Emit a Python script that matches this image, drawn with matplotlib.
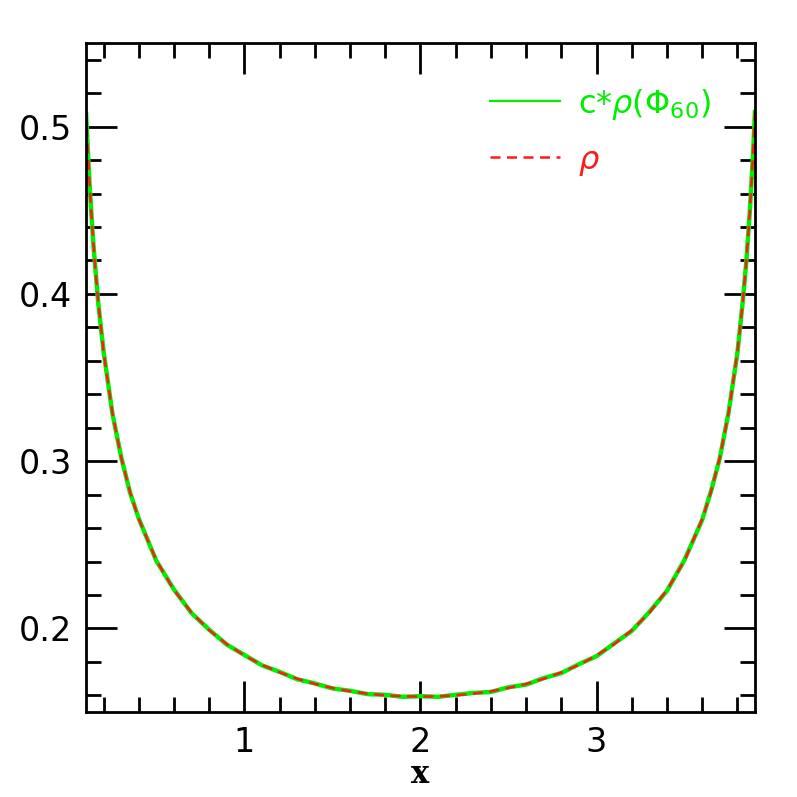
import matplotlib
matplotlib.use("Agg")
import matplotlib.pyplot as plt
from matplotlib.ticker import MultipleLocator
from matplotlib.lines import Line2D

# values
x_vals = [0.10, 0.11, 0.12, 0.13, 0.14, 0.15, 0.17, 0.20, 0.25, 0.30, 0.35, 0.40,
          0.50, 0.60, 0.70, 0.80, 0.90, 1.00, 1.10, 1.20, 1.30, 1.40, 1.50, 1.60,
          1.70, 1.80, 1.90, 2.00, 2.10, 2.20, 2.30, 2.40, 2.50, 2.60, 2.70, 2.80,
          2.90, 3.00, 3.10, 3.20, 3.30, 3.40, 3.50, 3.60, 3.65, 3.70, 3.75, 3.80,
          3.83, 3.85, 3.86, 3.87, 3.88, 3.89, 3.90]
rho = [0.5097, 0.4866, 0.4665, 0.4488, 0.4330, 0.4189, 0.3945, 0.3651, 0.3288, 0.3021,
       0.2816, 0.2653, 0.2406, 0.2229, 0.2094, 0.1989, 0.1906, 0.1838, 0.1782, 0.1737,
       0.1699, 0.1668, 0.1644, 0.1624, 0.1610, 0.1600, 0.1594, 0.1592, 0.1594, 0.1600,
       0.1610, 0.1624, 0.1644, 0.1668, 0.1699, 0.1737, 0.1782, 0.1838, 0.1906, 0.1989,
       0.2094, 0.2229, 0.2406, 0.2653, 0.2816, 0.3021, 0.3288, 0.3651, 0.3945, 0.4189,
       0.4330, 0.4488, 0.4665, 0.4866, 0.5097]
c_rho_phi60 = [0.5090, 0.4870, 0.4660, 0.4492, 0.4325, 0.4192, 0.3941, 0.3655, 0.3285,
               0.3024, 0.2813, 0.2656, 0.2403, 0.2232, 0.2091, 0.1992, 0.1903, 0.1841,
               0.1779, 0.1740, 0.1696, 0.1671, 0.1641, 0.1627, 0.1607, 0.1603, 0.1591,
               0.1595, 0.1591, 0.1603, 0.1614, 0.1620, 0.1648, 0.1664, 0.1703, 0.1733,
               0.1786, 0.1834, 0.1910, 0.1985, 0.2098, 0.2225, 0.2410, 0.2649, 0.2820,
               0.3017, 0.3292, 0.3647, 0.3949, 0.4185, 0.4334, 0.4484, 0.4669, 0.4862,
               0.5100]

GREEN = "#00ee00"
RED = "#ff1a1a"

fig = plt.figure(figsize=(7.97, 7.97), dpi=100)
ax = fig.add_axes([0.1079, 0.1066, 0.8394, 0.8394])

ax.plot(x_vals, c_rho_phi60, color=GREEN, lw=3.2, solid_capstyle="butt")
ax.plot(x_vals, rho, color=RED, lw=1.8, ls=(0, (4.0, 2.6)))

ax.set_xlim(0.1, 3.9)
ax.set_ylim(0.15, 0.55)
ax.xaxis.set_major_locator(MultipleLocator(1))
ax.xaxis.set_minor_locator(MultipleLocator(0.2))
ax.yaxis.set_major_locator(MultipleLocator(0.1))
ax.yaxis.set_minor_locator(MultipleLocator(0.02))
ax.tick_params(which="both", direction="in", top=True, right=True, width=2,
               labelsize=24, pad=10)
ax.tick_params(which="major", length=22)
ax.tick_params(which="minor", length=11)
for s in ax.spines.values():
    s.set_linewidth(2)

ax.set_xlabel("x", fontsize=22, fontweight="bold", family="DejaVu Serif", labelpad=0)

handles = [Line2D([], [], color=GREEN, lw=1.6),
           Line2D([], [], color=RED, lw=1.8, ls=(0, (4.0, 2.6)))]
labels = [r"c*$\rho(\Phi_{60})$", r"$\rho$"]
leg = ax.legend(handles, labels, loc="upper left", bbox_to_anchor=(0.604, 0.935),
                frameon=False, fontsize=23, labelcolor=[GREEN, RED],
                handlelength=2.2, handletextpad=0.55, borderpad=0, borderaxespad=0,
                labelspacing=0.72)

fig.savefig("out.png", dpi=100)
